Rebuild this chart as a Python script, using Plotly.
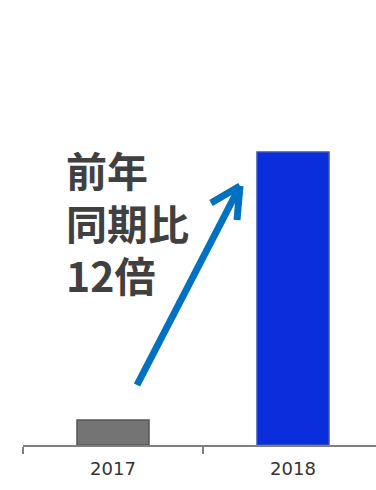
import plotly.graph_objects as go

years = ["2017", "2018"]
values = [1.0, 11.7]
bar_colors = ["#747474", "#0a2edc"]
bar_edges = ["#555555", "#3a55b5"]
label_lines = ["前年", "同期比", "12倍"]

W, H = 376, 490
ML, MB = 23, 45
PW, PH = W - ML, H - MB

def px(x):
    return (x - ML) / PW

def py(y):
    return (H - MB - y) / PH

fig = go.Figure()
fig.add_trace(go.Bar(
    x=years, y=values, width=0.4,
    marker=dict(color=bar_colors, line=dict(color=bar_edges, width=1.5)),
    hoverinfo="skip",
))

arrow_color = "#0070c0"
arrow_lines = [
    ((137, 385), (240, 186)),
    ((240, 186), (211, 203)),
    ((240, 186), (237, 220)),
]
for (x0, y0), (x1, y1) in arrow_lines:
    fig.add_shape(type="line", xref="paper", yref="paper",
                  x0=px(x0), y0=py(y0), x1=px(x1), y1=py(y1),
                  line=dict(color=arrow_color, width=7))

line_centers = [169, 222, 274]
for txt, yc in zip(label_lines, line_centers):
    fig.add_annotation(
        xref="paper", yref="paper", x=px(64), y=py(yc),
        xanchor="left", yanchor="middle", align="left", showarrow=False,
        text=f"<b>{txt}</b>",
        font=dict(family="Noto Sans CJK JP", size=41, color="#404040"),
    )

fig.update_layout(
    width=W, height=H,
    margin=dict(l=ML, r=0, t=0, b=MB),
    paper_bgcolor="white", plot_bgcolor="white",
    showlegend=False,
    xaxis=dict(
        type="category", range=[-0.5, -0.5 + PW / 180],
        tickson="boundaries", ticks="outside", ticklen=7, tickwidth=1.5,
        tickcolor="#808080", showline=True, linecolor="#808080", linewidth=1.5,
        showgrid=False, zeroline=False, ticklabelstandoff=7,
        tickfont=dict(family="DejaVu Sans", size=18, color="#333333"),
    ),
    yaxis=dict(visible=False, range=[0, 11.7 * PH / 293], fixedrange=True),
)

fig.write_html("out.html")
